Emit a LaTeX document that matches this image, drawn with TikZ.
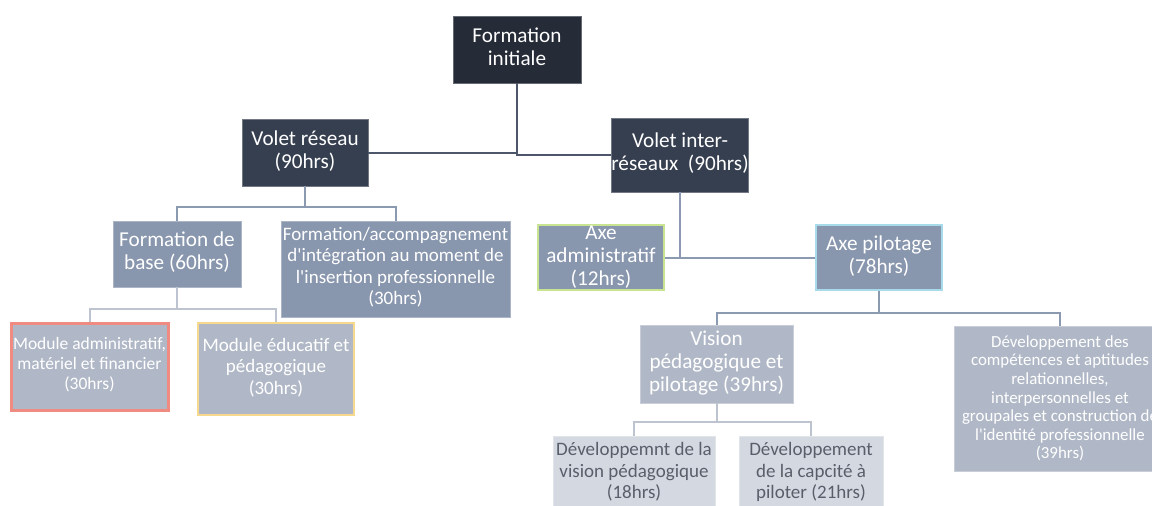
\documentclass[tikz,border=0pt]{standalone}
\usepackage{fontspec}
\setmainfont{Carlito}
\usepackage{xcolor}

\definecolor{topfill}{HTML}{252B37}
\definecolor{darkfill}{HTML}{363F50}
\definecolor{midfill}{HTML}{8896AE}
\definecolor{lightfill}{HTML}{B0B8C7}
\definecolor{palefill}{HTML}{D4D8E0}
\definecolor{paletext}{HTML}{595E6B}
\definecolor{redline}{HTML}{EF8B80}
\definecolor{yellowline}{HTML}{F7D98D}
\definecolor{greenline}{HTML}{C8E490}
\definecolor{cyanline}{HTML}{A8DBEA}
\definecolor{linkdark}{HTML}{4D566A}
\definecolor{linkmid}{HTML}{8C9AB1}
\definecolor{linklight}{HTML}{BDC4D0}

\begin{document}
\begin{tikzpicture}[x=1pt, y=-1pt,
  box/.style={rectangle, inner sep=0pt, align=center, text=white, line width=0.8pt},
  lift/.style={execute at end node={\rule[-6pt]{0pt}{6pt}}},
  big/.style={font=\fontsize{21.2}{23}\selectfont},
  mid/.style={font=\fontsize{19}{21.5}\selectfont},
  small/.style={font=\fontsize{17.5}{20}\selectfont},
  tiny/.style={font=\fontsize{16.9}{18.6}\selectfont},
  link/.style={line width=2pt}]

  \useasboundingbox (0,0) rectangle (1152,506);
  \clip (0,0) rectangle (1152,506);

  % Define the boxes
  \node[box, lift, big, fill=topfill, draw=topfill!70!white, minimum width=128, minimum height=67] (fi) at (517,49.5) {Formation\\initiale};
  \node[box, lift, big, fill=darkfill, draw=darkfill!70!white, minimum width=126, minimum height=67] (vr) at (305,152.5) {Volet réseau\\(90hrs)};
  \node[box, lift, big, fill=darkfill, draw=darkfill!70!white, minimum width=134, minimum height=74] (vi) at (680,155) {Volet inter-\\réseaux\ \ (90hrs)};

  \node[box, lift, big, fill=midfill, draw=midfill!70!white, minimum width=128, minimum height=66] (fb) at (177,254) {Formation de\\base (60hrs)};
  \node[box, lift, mid, fill=midfill, draw=midfill!70!white, minimum width=229, minimum height=96] (fa) at (395.5,269) {Formation/accompagnement\\d\textquotesingle intégration au moment de\\l\textquotesingle insertion professionnelle\\(30hrs)};
  \node[box, big, fill=midfill, draw=greenline, line width=2pt, minimum width=126, minimum height=65] (aa) at (601,257.5) {Axe\\administratif\\(12hrs)};
  \node[box, lift, big, fill=midfill, draw=cyanline, line width=2.5pt, minimum width=126, minimum height=65] (ap) at (879,257.5) {Axe pilotage\\(78hrs)};

  \node[box, lift, small, fill=lightfill, draw=redline, line width=3pt, minimum width=157, minimum height=87] (ma) at (89.5,366.5) {Module administratif,\\matériel et financier\\(30hrs)};
  \node[box, lift, mid, fill=lightfill, draw=yellowline, line width=2.5pt, minimum width=156, minimum height=92] (me) at (276,369) {Module éducatif et\\pédagogique\\(30hrs)};
  \node[box, lift, big, fill=lightfill, draw=lightfill!70!white, minimum width=153, minimum height=78] (vp) at (716.5,364) {Vision\\pédagogique et\\pilotage (39hrs)};
  \node[box, tiny, fill=lightfill, draw=lightfill!70!white, minimum width=212, minimum height=145] (dc) at (1060,398.5) {Développement des\\compétences et aptitudes\\relationnelles,\\interpersonnelles et\\groupales et construction de\\l\textquotesingle identité professionnelle\\(39hrs)};

  \node[box, mid, text=paletext, fill=palefill, draw=palefill!70!white, minimum width=162, minimum height=72] (dv) at (634,472) {Développemnt de la\\vision pédagogique\\(18hrs)};
  \node[box, mid, text=paletext, fill=palefill, draw=palefill!70!white, minimum width=144, minimum height=72] (dk) at (811,472) {Développement\\de la capcité à\\piloter (21hrs)};

  % Draw the links
  \draw[link, linkdark] (fi.south) |- (vr.east);
  \draw[link, linkdark] (fi.south) |- (vi.west);
  \draw[link, linkmid] (vr.south) -- ++(0,21) -| (fb.north);
  \draw[link, linkmid] (vr.south) -- ++(0,21) -| (fa.north);
  \draw[link, linklight] (fb.south) -- ++(0,22) -| (ma.north);
  \draw[link, linklight] (fb.south) -- ++(0,22) -| (me.north);
  \draw[link, linkmid] (vi.south) |- (aa.east);
  \draw[link, linkmid] (vi.south) |- (ap.west);
  \draw[link, linkmid] (ap.south) -- ++(0,22) -| (vp.north);
  \draw[link, linkmid] (ap.south) -- ++(0,22) -| (dc.north);
  \draw[link, linklight] (vp.south) -- ++(0,19) -| (dv.north);
  \draw[link, linklight] (vp.south) -- ++(0,19) -| (dk.north);
\end{tikzpicture}
\end{document}
